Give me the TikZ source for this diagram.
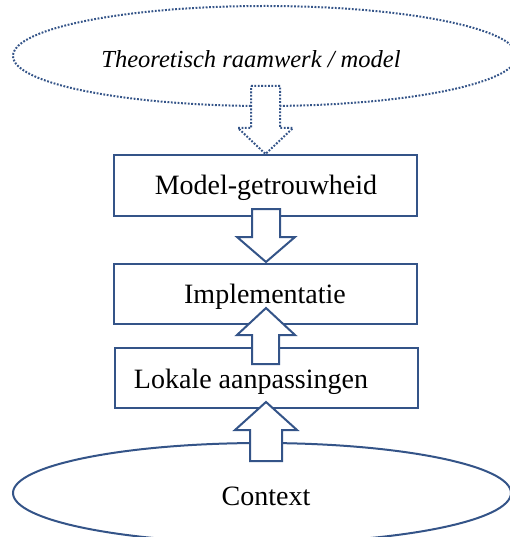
\documentclass[tikz,border=0pt]{standalone}
\usepackage{fontspec}
\setmainfont{Liberation Serif}
\usetikzlibrary{calc}
\definecolor{frame}{RGB}{52,84,136}
\tikzset{
  outline/.style={draw=frame, line width=2pt, fill=white},
  dots/.style={line width=2pt, dash pattern=on 1.8pt off 1.6pt},
  stepbox/.style={outline, rectangle, minimum width=303pt, minimum height=60pt, inner sep=0pt},
  label/.style={anchor=base, inner sep=0pt, font=\fontsize{28}{32}\selectfont},
}
\begin{document}
\begin{tikzpicture}[x=1pt, y=-1pt]
  \useasboundingbox (0,0) rectangle (510,537);
  \clip (0,0) rectangle (510,537);

  % theory ellipse at the top, dotted
  \draw[outline, dots] (265,56) ellipse [x radius=252, y radius=50];
  \node[label, font=\fontsize{24.5}{28}\selectfont\itshape] (theory) at (251,68) {Theoretisch raamwerk / model};

  % dotted block arrow down from the theory
  \draw[outline, dots] (251,86) -- (280,86) -- (280,128) -- (293,128) -- (265.5,154)
        -- (238,128) -- (251,128) -- cycle;

  % the three steps
  \node[stepbox] (fidelity) at (265.5,185.5) {};
  \node[stepbox] (impl) at (265.5,293.5) {};
  \node[stepbox] (local) at (266,377.5) {};

  % block arrow from fidelity down to implementation
  \draw[outline] (252,209) -- (280,209) -- (280,237) -- (295,237) -- (266,262)
        -- (237,237) -- (252,237) -- cycle;

  % block arrow from local adaptations up to implementation
  \draw[outline] (252,364) -- (279,364) -- (279,335) -- (295,335) -- (266,308)
        -- (237,335) -- (252,335) -- cycle;

  % context ellipse at the bottom
  \draw[outline] (262,493) ellipse [x radius=249, y radius=50];

  % block arrow from context up to local adaptations
  \draw[outline] (250,461) -- (282,461) -- (282,430) -- (297,430) -- (266,402)
        -- (235,430) -- (250,430) -- cycle;

  \node[label] (tfid) at (266,195) {Model-getrouwheid};
  \node[label] (timpl) at (265,303) {Implementatie};
  \node[label] (tlocal) at (251,388) {Lokale aanpassingen};
  \node[label] (tctx) at (266,505) {Context};
\end{tikzpicture}
\end{document}
